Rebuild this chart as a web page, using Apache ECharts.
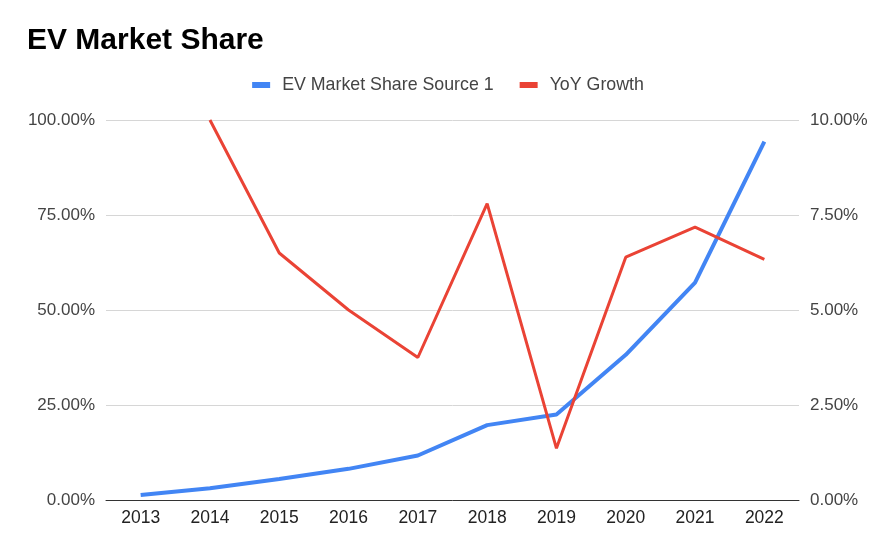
<!DOCTYPE html>
<html>
<head>
<meta charset="utf-8">
<script src="https://cdn.jsdelivr.net/npm/echarts@6/dist/echarts.min.js"></script>
<style>html,body{margin:0;padding:0;background:#fff;}#c{width:896px;height:554px;}</style>
</head>
<body>
<div id="c"></div>
<script>
var years = ['2013','2014','2015','2016','2017','2018','2019','2020','2021','2022'];
var evShare = [0.13, 0.31, 0.55, 0.82, 1.17, 1.97, 2.25, 3.82, 5.72, 9.43];
var yoyGrowth = [null, 100, 65, 50, 37.5, 78, 13.6, 63.9, 71.8, 63.3];
var leftTicks = [0, 25, 50, 75, 100];
var rightTicks = [0, 2.5, 5, 7.5, 10];

var chart = echarts.init(document.getElementById('c'));
var font = 'Arial, "Liberation Sans", sans-serif';
chart.setOption({
  backgroundColor: '#fff',
  animation: false,
  title: {
    text: 'EV Market Share',
    left: 22, top: 21,
    textStyle: { fontFamily: font, fontSize: 30, fontWeight: 'bold', color: '#000' }
  },
  legend: {
    top: 71, left: 'center',
    itemWidth: 18, itemHeight: 6, itemGap: 26,
    icon: 'rect',
    textStyle: { fontFamily: font, fontSize: 17.8, color: '#444', padding: [0, 0, 0, 7] },
    data: ['EV Market Share Source 1', 'YoY Growth']
  },
  grid: { left: 106, right: 97, top: 120, bottom: 54 },
  xAxis: {
    type: 'category', data: years, boundaryGap: true,
    axisLine: { lineStyle: { color: '#333', width: 1 } },
    axisTick: { show: false },
    axisLabel: { fontFamily: font, fontSize: 17.5, color: '#222', margin: 9 }
  },
  yAxis: [
    {
      type: 'value', min: leftTicks[0], max: leftTicks[leftTicks.length - 1], interval: 25,
      axisLine: { show: false }, axisTick: { show: false },
      splitLine: { lineStyle: { color: '#d6d6d6', width: 1 } },
      axisLabel: { fontFamily: font, fontSize: 17, color: '#444', margin: 11,
        formatter: function (v) { return v.toFixed(2) + '%'; } }
    },
    {
      type: 'value', min: rightTicks[0], max: rightTicks[rightTicks.length - 1], interval: 2.5,
      axisLine: { show: false }, axisTick: { show: false },
      splitLine: { show: false },
      axisLabel: { fontFamily: font, fontSize: 17, color: '#444', margin: 11,
        formatter: function (v) { return v.toFixed(2) + '%'; } }
    }
  ],
  series: [
    {
      name: 'EV Market Share Source 1', type: 'line', yAxisIndex: 1,
      data: evShare, symbol: 'none', smooth: false,
      itemStyle: { color: '#4285F4' },
      lineStyle: { color: '#4285F4', width: 4 }
    },
    {
      name: 'YoY Growth', type: 'line', yAxisIndex: 0,
      data: yoyGrowth, symbol: 'none', smooth: false,
      itemStyle: { color: '#EA4335' },
      lineStyle: { color: '#EA4335', width: 3 }
    }
  ]
});
</script>
</body>
</html>
